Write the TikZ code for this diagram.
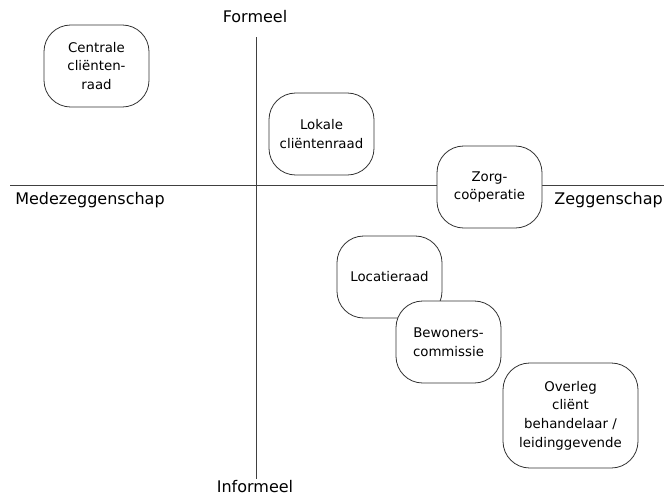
\documentclass[tikz,border=0pt]{standalone}
\usepackage{fontspec}
\setmainfont{DejaVu Sans}
\begin{document}
\begin{tikzpicture}[x=0.75pt,y=-0.75pt,
  box/.style={draw=black!80, line width=0.6pt, rounded corners=20pt, fill=white,
    minimum width=78.75pt, minimum height=61.5pt, align=center, inner sep=2pt,
    font=\fontsize{10}{14}\selectfont},
  axis/.style={draw=black!75, line width=0.6pt},
  lab/.style={font=\fontsize{12}{14}\selectfont, inner sep=0pt}]
\useasboundingbox (0,0) rectangle (664,497);
\coordinate (vt) at (256,37);
\coordinate (vb) at (256,479);
\coordinate (hl) at (10,185);
\coordinate (hr) at (664,185);
\draw[axis] (vt) -- (vb);
\draw[axis] (hl) -- (hr);
\node[lab] (formeel) at (255,17) {Formeel};
\node[lab] (informeel) at (255,487) {Informeel};
\node[lab, anchor=west] (mede) at (15,200) {Medezeggenschap};
\node[lab, anchor=east] (zeg) at (663,200) {Zeggenschap};
\node[box] (centrale) at (96.5,66) {Centrale\\cliënten-\\raad};
\node[box] (lokale) at (321.5,134) {Lokale\\cliëntenraad};
\node[box] (zorg) at (489.5,187) {Zorg-\\coöperatie};
\node[box] (locatie) at (389.5,277) {Locatieraad};
\node[box] (bewoners) at (448.5,342) {Bewoners-\\commissie};
\node[box, minimum width=101.25pt, minimum height=78.75pt] (overleg) at (570.5,415.5) {Overleg\\cliënt\\behandelaar /\\leidinggevende};
\end{tikzpicture}
\end{document}
